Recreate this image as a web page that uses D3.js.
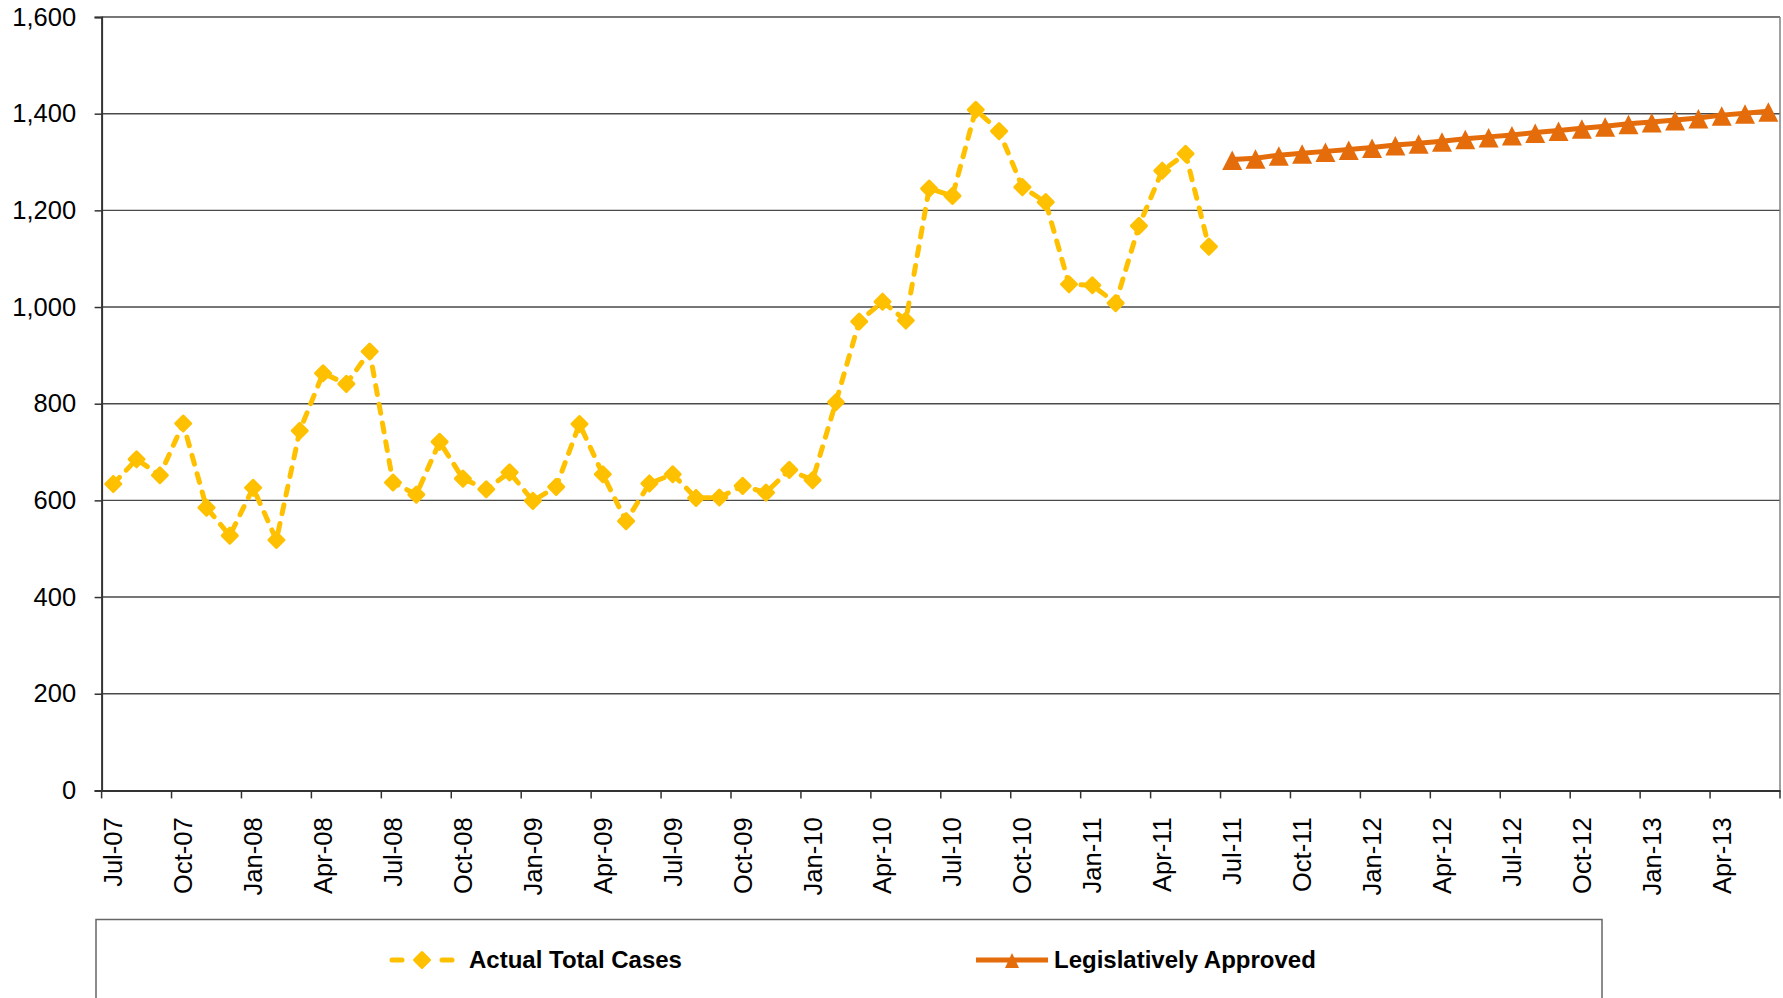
<!DOCTYPE html>
<html>
<head>
<meta charset="utf-8">
<script src="https://cdn.jsdelivr.net/npm/d3@7"></script>
<style>
  html, body { margin: 0; padding: 0; background: #fff; }
  svg { display: block; font-family: "Liberation Sans", Arial, sans-serif; }
</style>
</head>
<body>
<svg id="chart" width="1783" height="998"></svg>
<script>
// Monthly categories, Jul-07 through Jun-13
const months = [
  "Jul-07","Aug-07","Sep-07","Oct-07","Nov-07","Dec-07",
  "Jan-08","Feb-08","Mar-08","Apr-08","May-08","Jun-08","Jul-08","Aug-08","Sep-08","Oct-08","Nov-08","Dec-08",
  "Jan-09","Feb-09","Mar-09","Apr-09","May-09","Jun-09","Jul-09","Aug-09","Sep-09","Oct-09","Nov-09","Dec-09",
  "Jan-10","Feb-10","Mar-10","Apr-10","May-10","Jun-10","Jul-10","Aug-10","Sep-10","Oct-10","Nov-10","Dec-10",
  "Jan-11","Feb-11","Mar-11","Apr-11","May-11","Jun-11","Jul-11","Aug-11","Sep-11","Oct-11","Nov-11","Dec-11",
  "Jan-12","Feb-12","Mar-12","Apr-12","May-12","Jun-12","Jul-12","Aug-12","Sep-12","Oct-12","Nov-12","Dec-12",
  "Jan-13","Feb-13","Mar-13","Apr-13","May-13","Jun-13"
];

// Quarterly tick labels on the category axis
const tickLabels = [
  "Jul-07","Oct-07","Jan-08","Apr-08","Jul-08","Oct-08","Jan-09","Apr-09",
  "Jul-09","Oct-09","Jan-10","Apr-10","Jul-10","Oct-10","Jan-11","Apr-11",
  "Jul-11","Oct-11","Jan-12","Apr-12","Jul-12","Oct-12","Jan-13","Apr-13"
];

const yTicks = [0, 200, 400, 600, 800, 1000, 1200, 1400, 1600];

// Actual total cases, Jul-07 .. Jun-11
const actualMonths = months.slice(0, 48);
const actualValues = [
  634, 685, 652, 759, 585, 527, 626, 518, 744, 863, 841, 908,
  637, 612, 721, 645, 623, 658, 599, 628, 758, 654, 557, 635,
  654, 605, 606, 630, 616, 663, 642, 803, 970, 1011, 972, 1245,
  1230, 1408, 1364, 1248, 1217, 1047, 1045, 1008, 1168, 1282, 1317, 1125
];

// Legislatively approved caseload, Jul-11 .. Jun-13
const approvedMonths = months.slice(48);
const approvedValues = [
  1305, 1308, 1314, 1318, 1322, 1326, 1330, 1335, 1339, 1343, 1348, 1352,
  1356, 1361, 1365, 1370, 1374, 1379, 1383, 1387, 1391, 1397, 1401, 1405
];

const seriesNames = ["Actual Total Cases", "Legislatively Approved"];
const colors = { actual: "#FFC000", approved: "#E46C0A" };

const svg = d3.select("#chart");
const plot = { left: 101.6, right: 1780, top: 17, bottom: 790.4 };

const x = d3.scaleBand().domain(months).range([plot.left, plot.right]).paddingInner(0).paddingOuter(0);
const cx = d => x(d) + x.bandwidth() / 2;
const y = d3.scaleLinear().domain([0, 1600]).range([plot.bottom, plot.top]);

// Horizontal gridlines
svg.append("g").selectAll("line")
  .data(yTicks.filter(v => v > 0))
  .join("line")
  .attr("x1", plot.left).attr("x2", plot.right)
  .attr("y1", d => y(d)).attr("y2", d => y(d))
  .attr("stroke", "#4a4a4a").attr("stroke-width", 1.4);

// Right border of the plot area
svg.append("line")
  .attr("x1", plot.right).attr("x2", plot.right)
  .attr("y1", plot.top).attr("y2", plot.bottom)
  .attr("stroke", "#808080").attr("stroke-width", 1.5);

// Y axis
const yAxis = d3.axisLeft(y).tickValues(yTicks).tickFormat(d3.format(",")).tickSize(7).tickPadding(18.5);
const gy = svg.append("g").attr("transform", `translate(${plot.left},0)`).call(yAxis);
gy.select(".domain").attr("stroke", "#333").attr("stroke-width", 2);
gy.selectAll(".tick line").attr("stroke", "#333").attr("stroke-width", 1.5);
gy.selectAll(".tick text").attr("font-size", 25.5).attr("fill", "#000")
  .attr("font-family", "'Liberation Sans', Arial, sans-serif");

// X axis: labels centred on their month, tick marks between quarters
const xAxis = d3.axisBottom(x).tickValues(tickLabels).tickSize(0).tickSizeOuter(0);
const gx = svg.append("g").attr("transform", `translate(0,${plot.bottom})`).call(xAxis);
gx.select(".domain").attr("stroke", "#333").attr("stroke-width", 2);
gx.selectAll(".tick text")
  .attr("font-size", 25.5).attr("fill", "#000")
  .attr("font-family", "'Liberation Sans', Arial, sans-serif")
  .attr("text-anchor", "end")
  .attr("transform", "rotate(-90)")
  .attr("x", -27).attr("y", 0).attr("dy", "0.35em");

const boundaryTicks = tickLabels.map(d => x(d)).concat([plot.right]);
gx.append("g").selectAll("line")
  .data(boundaryTicks)
  .join("line")
  .attr("x1", d => d).attr("x2", d => d)
  .attr("y1", 0).attr("y2", 8)
  .attr("stroke", "#333").attr("stroke-width", 1.5);

// Marker shapes
const diamond = r => `M0,${-r}L${r},0L0,${r}L${-r},0Z`;
const triangle = (w, up, down) => `M0,${-up}L${w},${down}L${-w},${down}Z`;

// Actual total cases: dashed line with diamond markers
const actualData = actualMonths.map((m, i) => ({ m, v: actualValues[i] }));
const line = d3.line().x(d => cx(d.m)).y(d => y(d.v));

svg.append("path")
  .datum(actualData)
  .attr("d", line)
  .attr("fill", "none")
  .attr("stroke", colors.actual)
  .attr("stroke-width", 5)
  .attr("stroke-linecap", "round")
  .attr("stroke-linejoin", "round")
  .attr("stroke-dasharray", "9,10");

svg.append("g").selectAll("path")
  .data(actualData)
  .join("path")
  .attr("transform", d => `translate(${cx(d.m)},${y(d.v)})`)
  .attr("d", diamond(7.5))
  .attr("fill", colors.actual)
  .attr("stroke", colors.actual)
  .attr("stroke-width", 3)
  .attr("stroke-linejoin", "round");

// Legislatively approved: solid line with triangle markers
const approvedData = approvedMonths.map((m, i) => ({ m, v: approvedValues[i] }));

svg.append("path")
  .datum(approvedData)
  .attr("d", line)
  .attr("fill", "none")
  .attr("stroke", colors.approved)
  .attr("stroke-width", 5)
  .attr("stroke-linejoin", "round");

svg.append("g").selectAll("path")
  .data(approvedData)
  .join("path")
  .attr("transform", d => `translate(${cx(d.m)},${y(d.v)})`)
  .attr("d", triangle(10, 9, 10.5))
  .attr("fill", colors.approved);

// Legend
const legend = svg.append("g");
legend.append("rect")
  .attr("x", 96).attr("y", 919.5)
  .attr("width", 1506).attr("height", 120)
  .attr("fill", "#fff").attr("stroke", "#666").attr("stroke-width", 1.5);

const legY = 960;
// Actual total cases entry
legend.append("line")
  .attr("x1", 392).attr("x2", 402).attr("y1", legY).attr("y2", legY)
  .attr("stroke", colors.actual).attr("stroke-width", 5).attr("stroke-linecap", "round");
legend.append("line")
  .attr("x1", 442).attr("x2", 452).attr("y1", legY).attr("y2", legY)
  .attr("stroke", colors.actual).attr("stroke-width", 5).attr("stroke-linecap", "round");
legend.append("path")
  .attr("transform", `translate(422,${legY})`)
  .attr("d", diamond(7.5))
  .attr("fill", colors.actual).attr("stroke", colors.actual).attr("stroke-width", 3)
  .attr("stroke-linejoin", "round");
legend.append("text")
  .attr("x", 469).attr("y", legY).attr("dy", "0.35em")
  .attr("font-size", 24).attr("font-weight", "bold").attr("fill", "#000")
  .text(seriesNames[0]);

// Legislatively approved entry
legend.append("line")
  .attr("x1", 976).attr("x2", 1048).attr("y1", legY).attr("y2", legY)
  .attr("stroke", colors.approved).attr("stroke-width", 5);
legend.append("path")
  .attr("transform", `translate(1012,${legY})`)
  .attr("d", triangle(7, 7, 8))
  .attr("fill", colors.approved);
legend.append("text")
  .attr("x", 1054).attr("y", legY).attr("dy", "0.35em")
  .attr("font-size", 24).attr("font-weight", "bold").attr("fill", "#000")
  .text(seriesNames[1]);
</script>
</body>
</html>
